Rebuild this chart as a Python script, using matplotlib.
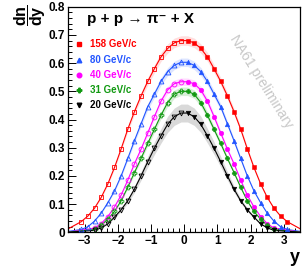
import matplotlib
matplotlib.use('Agg')
import matplotlib.pyplot as plt
from matplotlib.ticker import MultipleLocator, FormatStrFormatter
import numpy as np

plt.rcParams['font.family'] = ['Liberation Sans', 'DejaVu Sans']
plt.rcParams['mathtext.fontset'] = 'custom'
plt.rcParams['mathtext.rm'] = 'Liberation Sans:bold'
plt.rcParams['mathtext.bf'] = 'Liberation Sans:bold'
plt.rcParams['mathtext.it'] = 'Liberation Sans:bold'

# rapidity bin centres (forward hemisphere, measured)
y_bins = [0.1, 0.3, 0.5, 0.7, 0.9, 1.1, 1.3, 1.5, 1.7, 1.9, 2.1, 2.3, 2.5, 2.7, 2.9, 3.1]

dndy_158 = [0.680, 0.672, 0.652, 0.622, 0.580, 0.535, 0.484, 0.428, 0.366, 0.296,
            0.230, 0.172, 0.124, 0.086, 0.058, 0.038]
dndy_80 = [0.603, 0.592, 0.570, 0.535, 0.490, 0.445, 0.385, 0.325, 0.262, 0.200,
           0.147, 0.105, 0.068, 0.040, 0.020, 0.010]
dndy_40 = [0.534, 0.527, 0.505, 0.465, 0.410, 0.352, 0.295, 0.243, 0.185, 0.132,
           0.090, 0.056, 0.031, 0.015]
dndy_31 = [0.500, 0.490, 0.460, 0.415, 0.365, 0.315, 0.262, 0.212, 0.160, 0.112,
           0.074, 0.047, 0.025, 0.010]
dndy_20 = [0.423, 0.410, 0.383, 0.342, 0.298, 0.250, 0.200, 0.153, 0.112, 0.080,
           0.054, 0.030, 0.016, 0.007]

# fit curve value at |y| = 3.5 (edge of plot)
edge_vals = [0.012, 0.003, 0.0005, 0.0003, 0.0001]

labels = ['158 GeV/c', '80 GeV/c', '40 GeV/c', '31 GeV/c', '20 GeV/c']
series = [dndy_158, dndy_80, dndy_40, dndy_31, dndy_20]

colors = ['#ff0000', '#2255ff', '#ff00ff', '#119911', '#000000']
band_colors = ['#ffdede', '#dde5ff', '#ffdcff', '#d8efd8', '#d9d9d9']
band_frac = [0.025, 0.025, 0.025, 0.03, 0.075]
markers = ['s', '^', 'o', 'P', 'v']

fig = plt.figure(figsize=(3.05, 2.7), dpi=100)
ax = fig.add_axes([0.223, 0.1396, 0.762, 0.8354])

for i in range(5):
    vals = np.array(series[i])
    yy = np.array(y_bins[:len(vals)])
    xline = np.concatenate([[-3.5], -yy[::-1], yy, [3.5]])
    vline = np.concatenate([[edge_vals[i]], vals[::-1], vals, [edge_vals[i]]])
    ax.fill_between(xline, vline * (1 - band_frac[i]), vline * (1 + band_frac[i]),
                    color=band_colors[i], lw=0, zorder=1)
    ax.plot(xline, vline, color=colors[i], lw=0.8, zorder=2)
    # measured points
    ax.plot(yy, vals, ls='none', marker=markers[i], color=colors[i], ms=3.3,
            mew=0.4, zorder=3)
    # reflected points
    ax.plot(-yy, vals, ls='none', marker=markers[i], mfc='none', mec=colors[i],
            ms=3.5, mew=0.6, zorder=3)

ax.set_xlim(-3.5, 3.5)
ax.set_ylim(0, 0.8)

ax.xaxis.set_major_locator(MultipleLocator(1))
ax.xaxis.set_minor_locator(MultipleLocator(1 / 6))
ax.yaxis.set_major_locator(MultipleLocator(0.1))
ax.yaxis.set_minor_locator(MultipleLocator(0.02))
ax.yaxis.set_major_formatter(FormatStrFormatter('%g'))
ax.tick_params(which='both', direction='in', top=False, right=False, width=0.7)
ax.tick_params(which='major', length=6, labelsize=8.5, pad=2)
ax.tick_params(which='minor', length=3)
for lab in ax.get_xticklabels() + ax.get_yticklabels():
    lab.set_fontweight('bold')
for sp in ax.spines.values():
    sp.set_linewidth(0.9)

# legend (ROOT style)
row_y = [0.833, 0.762, 0.697, 0.630, 0.564]
for i in range(5):
    ax.plot([0.047], [row_y[i]], transform=ax.transAxes, marker=markers[i],
            color=colors[i], ms=3.3, ls='none', clip_on=False)
    ax.text(0.095, row_y[i], labels[i], transform=ax.transAxes, color=colors[i],
            fontsize=7, fontweight='bold', va='center', ha='left')

ax.text(0.082, 0.945, 'p + p \u2192 \u03c0\u207b + X', transform=ax.transAxes,
        fontsize=11, fontweight='bold', va='center', ha='left')

ax.text(0.83, 0.67, 'NA61 preliminary', transform=ax.transAxes, color='#c8c8c8',
        fontsize=10, rotation=-58, ha='center', va='center')

fig.text(0.098, 0.943, r'$\mathbf{\dfrac{dn}{dy}}$', rotation=90, fontsize=11.5,
         ha='center', va='center')
fig.text(0.967, 0.046, 'y', fontsize=13, fontweight='bold', ha='center', va='center')

fig.savefig('out.png', dpi=100)
